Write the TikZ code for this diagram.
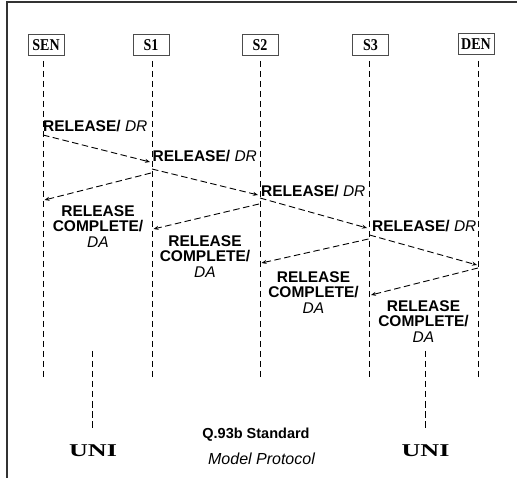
\documentclass[tikz,border=0pt]{standalone}
\usepackage{fontspec}
\setmainfont{Liberation Sans}
\newfontfamily\serifbold{Liberation Serif}
\usetikzlibrary{arrows.meta}

\begin{document}
\begin{tikzpicture}[x=1pt,y=-1pt,
  entity/.style={draw=black!70, line width=0.8pt, fill=white,
    font=\serifbold\bfseries\fontsize{16.5}{16.5}\selectfont,
    minimum width=36pt, minimum height=21pt, inner sep=0pt},
  lifeline/.style={dash pattern=on 6.5pt off 3.5pt, line width=1pt},
  msg/.style={dash pattern=on 6.5pt off 3.5pt, line width=0.9pt,
    -{Stealth[length=5pt,width=4pt]}},
  fwdlbl/.style={anchor=base west, inner sep=0pt,
    font=\fontsize{15.5}{15.5}\selectfont},
  backlbl/.style={anchor=north, inner sep=0pt, align=center,
    font=\fontsize{15.5}{15.5}\selectfont},
  unilbl/.style={font=\serifbold\bfseries\fontsize{18}{18}\selectfont, inner sep=0pt},
]
\useasboundingbox (0,0) rectangle (517,478);

% frame
\draw[line width=1.5pt, black!80] (7,478) -- (7,2) -- (517,2);

% entities
\node[entity] (sen) at (46,45) {\scalebox{0.85}[1]{SEN}};
\node[entity] (s1)  at (151,45) {\scalebox{0.85}[1]{S1}};
\node[entity] (s2)  at (260,45) {\scalebox{0.85}[1]{S2}};
\node[entity] (s3)  at (370.5,45) {\scalebox{0.85}[1]{S3}};
\node[entity] (den) at (476,44) {\scalebox{0.85}[1]{DEN}};

% lifelines
\foreach \n/\x in {sen/43, s1/152, s2/260, s3/369.5, den/478.7}{
  \coordinate (\n-top) at (\x,61);
  \coordinate (\n-bot) at (\x,381);
  \draw[lifeline] (\n-top) -- (\n-bot);
}

% message end points
\coordinate (a1s) at (43,135);   \coordinate (a1e) at (150,162);
\coordinate (a2s) at (152,169);  \coordinate (a2e) at (258,195);
\coordinate (a3s) at (151,173);  \coordinate (a3e) at (44.5,200);
\coordinate (a4s) at (260,198);  \coordinate (a4e) at (367,228);
\coordinate (a5s) at (259,204);  \coordinate (a5e) at (153.5,229);
\coordinate (a6s) at (369.5,235);\coordinate (a6e) at (477,265);
\coordinate (a7s) at (368.5,239);\coordinate (a7e) at (261.5,263);
\coordinate (a8s) at (478,268);  \coordinate (a8e) at (371,295);

% RELEASE forward
\draw[msg] (a1s) -- (a1e);
\draw[msg] (a2s) -- (a2e);
\draw[msg] (a4s) -- (a4e);
\draw[msg] (a6s) -- (a6e);
% RELEASE COMPLETE backward
\draw[msg] (a3s) -- (a3e);
\draw[msg] (a5s) -- (a5e);
\draw[msg] (a7s) -- (a7e);
\draw[msg] (a8s) -- (a8e);

% forward labels
\node[fwdlbl] (l1) at (43,132)  {\textbf{RELEASE/} \textit{DR}};
\node[fwdlbl] (l2) at (152.5,162) {\textbf{RELEASE/} \textit{DR}};
\node[fwdlbl] (l4) at (261,197) {\textbf{RELEASE/} \textit{DR}};
\node[fwdlbl] (l6) at (372,232) {\textbf{RELEASE/} \textit{DR}};

% backward labels
\node[backlbl] (l3) at (98,205)  {\textbf{RELEASE}\\\textbf{COMPLETE/}\\\textit{DA}};
\node[backlbl] (l5) at (205,235) {\textbf{RELEASE}\\\textbf{COMPLETE/}\\\textit{DA}};
\node[backlbl] (l7) at (313.5,271) {\textbf{RELEASE}\\\textbf{COMPLETE/}\\\textit{DA}};
\node[backlbl] (l8) at (423.5,300) {\textbf{RELEASE}\\\textbf{COMPLETE/}\\\textit{DA}};

% user-network interfaces
\coordinate (u1t) at (92,351);  \coordinate (u1b) at (92,430);
\coordinate (u2t) at (425,351); \coordinate (u2b) at (425,430);
\draw[lifeline] (u1t) -- (u1b);
\draw[lifeline] (u2t) -- (u2b);
\node[unilbl] (uni1) at (93,450.5) {\scalebox{1.45}[1]{UNI}};
\node[unilbl] (uni2) at (425.5,450.5) {\scalebox{1.45}[1]{UNI}};

% caption
\node[anchor=base, inner sep=0pt, font=\bfseries\fontsize{14.5}{14.5}\selectfont] (cap1) at (256,438) {Q.93b Standard};
\node[anchor=base, inner sep=0pt, font=\itshape\fontsize{16}{16}\selectfont] (cap2) at (261.5,464) {Model Protocol};
\end{tikzpicture}
\end{document}
